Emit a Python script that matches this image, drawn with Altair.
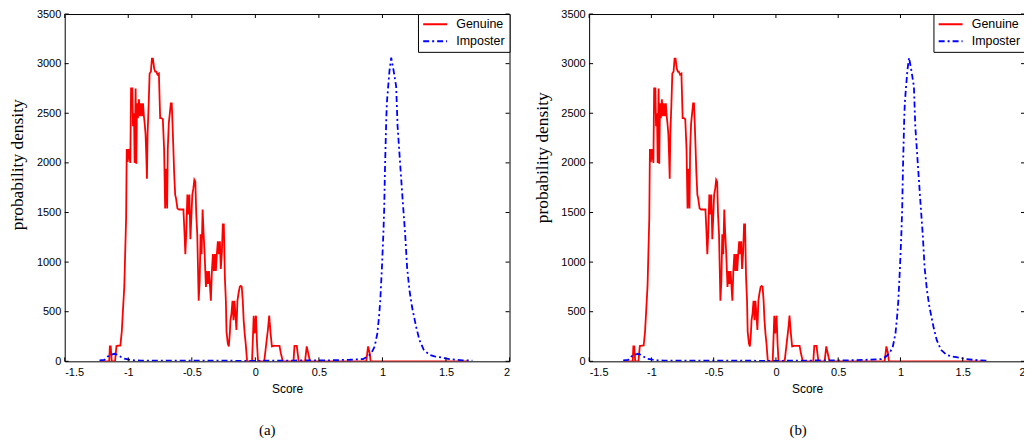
import altair as alt
import pandas as pd

# ---------------- data ----------------
series_names = ["Genuine", "Imposter"]
captions = ["(a)", "(b)"]
x_ticks = [-1.5, -1, -0.5, 0, 0.5, 1, 1.5, 2]
y_ticks = [0, 500, 1000, 1500, 2000, 2500, 3000, 3500]

genuine_x = [
    -1.226, -1.150, -1.145, -1.138, -1.130, -1.104, -1.093, -1.062, -1.051, -1.031,
    -1.017, -1.012, -1.004, -0.997, -0.984, -0.978, -0.968, -0.963, -0.955, -0.950,
    -0.942, -0.937, -0.931, -0.924, -0.916, -0.908, -0.900, -0.892, -0.884, -0.877,
    -0.871, -0.864, -0.858, -0.853, -0.848, -0.840, -0.832, -0.822, -0.814, -0.806,
    -0.796, -0.788, -0.780, -0.770, -0.759, -0.749, -0.738, -0.728, -0.718, -0.710,
    -0.702, -0.694, -0.689, -0.681, -0.673, -0.665, -0.658, -0.652, -0.645, -0.639,
    -0.631, -0.624, -0.613, -0.600, -0.582, -0.566, -0.558, -0.551, -0.543, -0.535,
    -0.527, -0.519, -0.511, -0.504, -0.496, -0.488, -0.480, -0.472, -0.465, -0.457,
    -0.446, -0.438, -0.431, -0.423, -0.415, -0.407, -0.399, -0.389, -0.381, -0.373,
    -0.365, -0.358, -0.350, -0.342, -0.334, -0.326, -0.318, -0.311, -0.303, -0.295,
    -0.287, -0.279, -0.272, -0.264, -0.256, -0.248, -0.240, -0.232, -0.227, -0.217,
    -0.209, -0.201, -0.196, -0.188, -0.180, -0.172, -0.165, -0.157, -0.149, -0.141,
    -0.133, -0.123, -0.115, -0.107, -0.099, -0.092, -0.084, -0.076, -0.065, -0.026,
    -0.013, -0.006, 0.005, 0.013, 0.021, 0.070, 0.086, 0.099, 0.109, 0.120,
    0.130, 0.143, 0.190, 0.201, 0.216, 0.300, 0.308, 0.326, 0.341, 0.391,
    0.404, 0.430, 0.873, 0.887, 0.900, 0.907, 1.675,
]
genuine_y = [
    0, 0, 150, 150, 0, 0, 155, 160, 300, 760,
    1440, 2140, 2010, 2140, 2000, 2750, 2750, 2370, 2500, 2000,
    2750, 1990, 2600, 2450, 2640, 2470, 2600, 2470, 2600, 2470,
    2400, 2290, 2070, 1840, 2290, 2570, 2900, 2920, 3050, 3050,
    2950, 2920, 2920, 2890, 2900, 2450, 2450, 2440, 2140, 1540,
    1940, 1540, 2140, 2400, 2500, 2600, 2600, 2400, 2140, 1900,
    1680, 1640, 1540, 1530, 1530, 1530, 1310, 1080, 1310, 1680,
    1480, 1680, 1230, 1440, 1680, 1740, 1830, 1810, 1480, 1280,
    610, 810, 1280, 1080, 1530, 1280, 1080, 750, 910, 780,
    910, 780, 610, 910, 1080, 910, 1080, 910, 1080, 1210,
    1080, 1210, 930, 1080, 1380, 1380, 850, 610, 300, 180,
    150, 280, 415, 480, 610, 415, 610, 480, 315, 610,
    680, 750, 760, 750, 610, 415, 280, 180, 0, 0,
    460, 280, 460, 180, 0, 0, 180, 320, 460, 280,
    150, 155, 155, 80, 0, 0, 155, 155, 0, 0,
    150, 0, 0, 150, 80, 0, 0,
]

imposter_x = [
    -1.226, -1.187, -1.161, -1.135, -1.109, -1.083, -1.057, -1.031, -0.991, -0.952,
    -0.900, -0.700, -0.500, -0.300, 0.000, 0.300, 0.500, 0.587, 0.743, 0.847,
    0.887, 0.913, 0.939, 0.960, 0.973, 0.983, 0.996, 1.007, 1.014, 1.020,
    1.030, 1.035, 1.043, 1.056, 1.069, 1.087, 1.108, 1.119, 1.142, 1.160,
    1.179, 1.194, 1.213, 1.233, 1.265, 1.291, 1.325, 1.369, 1.410, 1.447,
    1.486, 1.526, 1.578, 1.630, 1.708,
]
imposter_y = [
    10, 15, 50, 66, 76, 66, 43, 26, 16, 10,
    8, 6, 8, 6, 5, 8, 10, 10, 16, 23,
    50, 83, 150, 282, 448, 614, 945, 1277, 1543, 1941,
    2438, 2604, 2737, 2936, 3060, 2936, 2770, 2372, 1941, 1609,
    1277, 945, 713, 547, 348, 216, 116, 66, 50, 43,
    33, 23, 16, 10, 7,
]

# ---------------- tables ----------------
df = pd.concat(
    [
        pd.DataFrame({"score": genuine_x, "density": genuine_y, "series": series_names[0]}),
        pd.DataFrame({"score": imposter_x, "density": imposter_y, "series": series_names[1]}),
    ],
    ignore_index=True,
)
df["order"] = range(len(df))
ytick_df = pd.DataFrame({"density": y_ticks})
xtick_df = pd.DataFrame({"score": x_ticks})

SANS = "Liberation Sans"
SERIF = "Liberation Serif"


def panel(W, H, caption, title_y, cap_dx):
    xs = alt.Scale(domain=[-1.5, 2], nice=False, zero=False)
    ys = alt.Scale(domain=[0, 3500], nice=False)
    leg = alt.Legend(
        title=None,
        orient="top-right",
        offset=0,
        fillColor="white",
        strokeColor="black",
        padding=4,
        cornerRadius=0,
        labelFont=SANS,
        labelFontSize=12.5,
        labelColor="black",
        labelExpr="datum.label + '   '",
        labelOffset=22,
        symbolType="M-1,0H3.8",
        symbolSize=100,
        symbolStrokeWidth=2,
        rowPadding=4,
    )
    x_axis = alt.Axis(values=x_ticks, title="Score", labelExpr="datum.value",
                      titlePadding=6, labelPadding=5)
    y_axis = alt.Axis(
        values=y_ticks,
        title="probability density",
        labelExpr="datum.value",
        labelPadding=4,
        titleFont=SERIF,
        titleFontSize=17.5,
        titleAngle=270,
        titleBaseline="alphabetic",
        titleAlign="center",
        titleX=-42,
        titleY=title_y,
    )
    lines = alt.Chart(df).mark_line(strokeWidth=1.8, clip=True).encode(
        x=alt.X("score:Q", scale=xs, axis=x_axis),
        y=alt.Y("density:Q", scale=ys, axis=y_axis),
        color=alt.Color("series:N", scale=alt.Scale(domain=series_names, range=["#ff0000", "#0000ff"]), legend=leg),
        strokeDash=alt.StrokeDash("series:N", scale=alt.Scale(domain=series_names, range=[[1, 0], [6, 3, 2, 3]]), legend=leg),
        order="order:Q",
    )
    ytl = alt.Chart(ytick_df).mark_rule(color="black", strokeWidth=1).encode(
        y=alt.Y("density:Q", scale=ys, axis=y_axis), x=alt.value(0), x2=alt.value(4))
    ytr = alt.Chart(ytick_df).mark_rule(color="black", strokeWidth=1).encode(
        y=alt.Y("density:Q", scale=ys, axis=y_axis), x=alt.value(W - 4), x2=alt.value(W))
    xtb = alt.Chart(xtick_df).mark_rule(color="black", strokeWidth=1).encode(
        x=alt.X("score:Q", scale=xs, axis=x_axis), y=alt.value(H - 4), y2=alt.value(H))
    xtt = alt.Chart(xtick_df).mark_rule(color="black", strokeWidth=1).encode(
        x=alt.X("score:Q", scale=xs, axis=x_axis), y=alt.value(0), y2=alt.value(4))
    return alt.layer(lines, ytl, ytr, xtb, xtt).properties(
        width=W,
        height=H,
        title=alt.TitleParams(caption, orient="bottom", font=SERIF, fontSize=15,
                              fontWeight="normal", color="black", offset=29, dx=cap_dx),
    )


left = panel(447, 349, captions[0], 151, -20)
right = panel(438, 349, captions[1], 144, -9)

chart = (
    alt.hconcat(left, right, spacing=22)
    .resolve_scale(color="independent", strokeDash="independent")
    .properties(padding={"left": 0, "top": -2, "right": -2, "bottom": 0}, background="white")
    .configure_view(stroke="black", strokeWidth=1)
    .configure_axis(
        labelFont=SANS,
        labelFontSize=11,
        labelColor="black",
        titleFont=SANS,
        titleFontSize=12,
        titleFontWeight="normal",
        titleColor="black",
        domain=False,
        ticks=False,
        grid=False,
    )
)

chart.save("out.html", embed_options={"renderer": "svg", "actions": False})
